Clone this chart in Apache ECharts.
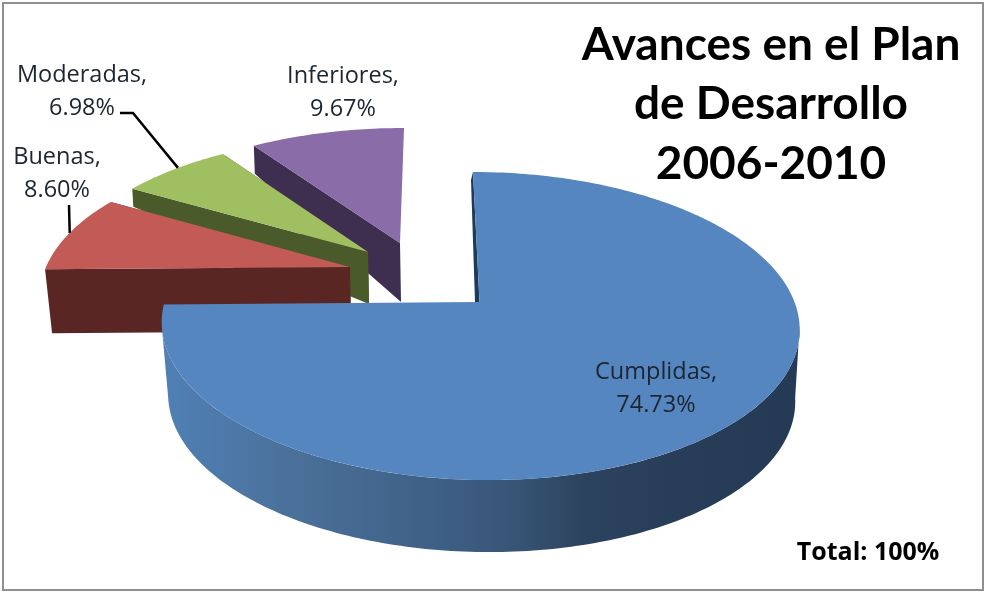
<!DOCTYPE html>
<html><head><meta charset="utf-8">
<style>html,body{margin:0;padding:0;background:#fff}#c{width:985px;height:592px}</style>
<script src="https://cdn.jsdelivr.net/npm/echarts@6/dist/echarts.min.js"></script>
</head><body><div id="c"></div>
<script>
var categories = ['Cumplidas', 'Buenas', 'Moderadas', 'Inferiores'];
var values = [74.73, 8.60, 6.98, 9.67];
var titleLines = ['Avances en el Plan', 'de Desarrollo', '2006-2010'];
var totalText = 'Total: 100%';

// presentation only: colours and the hand-fitted perspective of each exploded slice
var topColors = ['#5586c0', '#c25a56', '#a0bf60', '#8a6ca8'];
var wallColors = ['#2a4460', '#5a2624', '#4b5a2a', '#3e2f50'];
var apexes = [[479.5, 302], [350, 267], [368, 252], [400, 243]];
var radiiX = [315, 304, 302, 305];
var radiiY = [150.3, 143, 139, 138];
var skews = [0.05, 0, -0.03, -0.035];
var perspective = [0.156, 0.2, 0.2, 0.2];
var rimDepths = [72, 64, 18, 28];
var apexDepths = [72, 64, 52, 59];
var labelCenters = [[656, 389], [57, 174], [82, 92], [343, 93]];
var leaderAngles = [null, 284.5, 313.5, null];
var leaderStarts = [null, [[69, 205]], [[120, 113], [133, 113]], null];

var total = values.reduce(function (a, b) { return a + b; }, 0);
var starts = [], acc = 0;
values.forEach(function (v) { starts.push(acc / total * 360); acc += v; });

function rim(i, deg, sx, sy, ox, oy) {
  var t = deg * Math.PI / 180, u = Math.sin(t), v = -Math.cos(t), d = 1 - perspective[i] * v;
  var dy = radiiY[i] * v / d;
  var dx = radiiX[i] * u / d + skews[i] * dy;
  return [apexes[i][0] + (ox || 0) + dx * (sx || 1), apexes[i][1] + (oy || 0) + dy * (sy || 1)];
}
function poly(points, fill, z) {
  return { type: 'polygon', z2: z, shape: { points: points }, style: { fill: fill }, silent: true };
}
function arc(i, a, b, sx, sy, ox, oy) {
  var out = [], n = Math.max(2, Math.ceil(Math.abs(b - a)));
  for (var j = 0; j <= n; j++) out.push(rim(i, a + (b - a) * j / n, sx, sy, ox, oy));
  return out;
}

var chart = echarts.init(document.getElementById('c'), null, { renderer: 'canvas' });

function renderItem(params, api) {
  var i = api.value(0), val = api.value(1);
  var a = starts[i], b = a + val / total * 360;
  var kids = [], ap = apexes[i];
  var top = [ap].concat(arc(i, a, b));
  if (i === 0) {
    // round outer wall of the big slice, between upper and lower rims
    var upper = arc(i, 99, 261);
    var lower = arc(i, 261, 99, 0.983, 1, 1, rimDepths[i]);
    kids.push(poly(upper.concat(lower), new echarts.graphic.LinearGradient(0, 0, 1, 0, [
      { offset: 0, color: '#5080b6' }, { offset: 0.21, color: '#4a7099' },
      { offset: 0.45, color: '#3d5e84' }, { offset: 0.56, color: '#375474' },
      { offset: 0.66, color: '#2c435f' }, { offset: 0.8, color: '#283d58' }, { offset: 1, color: '#253b55' }
    ]), 1));
    var r0 = rim(i, a);
    kids.push(poly([r0, ap, [ap[0] - 4.5, ap[1]], [r0[0] - 2, r0[1] + 8]], '#1f3a58', 2));
  } else {
    var ra = rim(i, a), rb = rim(i, b);
    kids.push(poly([ra, ap, [ap[0] + 1, ap[1] + apexDepths[i]], [ra[0] + (i === 1 ? 7 : 1), ra[1] + rimDepths[i]]], wallColors[i], 1));
    if (i === 1 || i === 2) {
      kids.push(poly([ap, rb, [ap[0] + 1, ap[1] + apexDepths[i]]], wallColors[i], 0));
    }
  }
  kids.push(poly(top, topColors[i], 3));
  if (leaderAngles[i] !== null) {
    kids.push({ type: 'polyline', z2: 4, silent: true,
      shape: { points: leaderStarts[i].concat([rim(i, leaderAngles[i])]) },
      style: { stroke: '#000', lineWidth: 2.5, fill: null } });
  }
  kids.push({ type: 'text', z2: 5, silent: true, x: labelCenters[i][0], y: labelCenters[i][1],
    style: { text: categories[i] + ',\n' + val.toFixed(2) + '%', fill: '#1c2530',
      font: '23.5px "Open Sans"', align: 'center', verticalAlign: 'middle', lineHeight: 33 } });
  return { type: 'group', children: kids };
}

// paint back-to-front: far slices first, the big slice last
var paintOrder = [3, 2, 1, 0];

chart.setOption({
  animation: false,
  backgroundColor: '#fff',
  series: [{
    type: 'custom', coordinateSystem: 'none', renderItem: renderItem, silent: true,
    data: paintOrder.map(function (i) { return { name: categories[i], value: [i, values[i]] }; })
  }],
  graphic: [
    { type: 'rect', silent: true, z: 10, shape: { x: 3, y: 3, width: 980, height: 587 },
      style: { fill: null, stroke: '#8f8f8f', lineWidth: 2 } },
    { type: 'text', silent: true, z: 10, x: 771, y: 45, style: { text: titleLines[0], font: 'bold 46px Lato', fill: '#000', align: 'center', verticalAlign: 'middle' } },
    { type: 'text', silent: true, z: 10, x: 771, y: 104, style: { text: titleLines[1], font: 'bold 46px Lato', fill: '#000', align: 'center', verticalAlign: 'middle' } },
    { type: 'text', silent: true, z: 10, x: 771, y: 164, style: { text: titleLines[2], font: 'bold 46px Lato', fill: '#000', align: 'center', verticalAlign: 'middle' } },
    { type: 'text', silent: true, z: 10, x: 868, y: 553, style: { text: totalText, font: 'bold 25px "Open Sans"', fill: '#000', align: 'center', verticalAlign: 'middle' } }
  ]
});
</script></body></html>
